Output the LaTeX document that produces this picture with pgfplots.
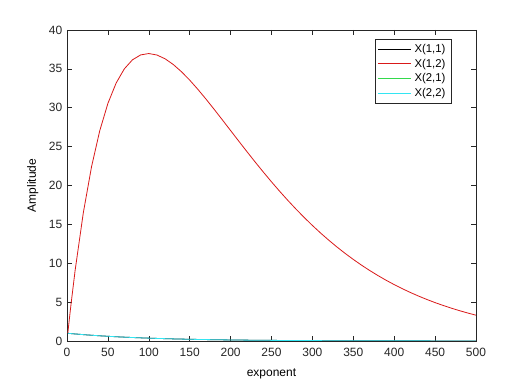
\documentclass[border=0pt]{standalone}
\usepackage{pgfplots}
\pgfplotsset{compat=1.18}
\usepackage{pgfplotstable}
\usepackage{fontspec}
\setmainfont{Liberation Sans}
\pgfplotstableread{
n a b c d
1 0.990000 1.000 0 0.990000
2 0.980100 1.980 0 0.980100
3 0.970299 2.940 0 0.970299
5 0.950990 4.803 0 0.950990
10 0.904382 9.135 0 0.904382
20 0.817907 16.524 0 0.817907
30 0.739700 22.415 0 0.739700
40 0.668971 27.029 0 0.668971
50 0.605006 30.556 0 0.605006
60 0.547157 33.161 0 0.547157
70 0.494839 34.989 0 0.494839
80 0.447523 36.163 0 0.447523
90 0.404732 36.794 0 0.404732
100 0.366032 36.973 0 0.366032
110 0.331033 36.781 0 0.331033
120 0.299380 36.289 0 0.299380
130 0.270754 35.553 0 0.270754
140 0.244865 34.627 0 0.244865
150 0.221452 33.553 0 0.221452
160 0.200277 32.368 0 0.200277
170 0.181127 31.103 0 0.181127
180 0.163808 29.783 0 0.163808
190 0.148145 28.432 0 0.148145
200 0.133980 27.067 0 0.133980
210 0.121169 25.702 0 0.121169
220 0.109583 24.352 0 0.109583
230 0.099105 23.024 0 0.099105
240 0.089629 21.728 0 0.089629
250 0.081059 20.470 0 0.081059
260 0.073308 19.253 0 0.073308
270 0.066299 18.082 0 0.066299
280 0.059960 16.959 0 0.059960
290 0.054226 15.885 0 0.054226
300 0.049041 14.861 0 0.049041
310 0.044352 13.888 0 0.044352
320 0.040111 12.965 0 0.040111
330 0.036276 12.092 0 0.036276
340 0.032807 11.267 0 0.032807
350 0.029670 10.490 0 0.029670
360 0.026833 9.757 0 0.026833
370 0.024268 9.070 0 0.024268
380 0.021947 8.424 0 0.021947
390 0.019849 7.819 0 0.019849
400 0.017951 7.253 0 0.017951
410 0.016234 6.723 0 0.016234
420 0.014682 6.229 0 0.014682
430 0.013278 5.767 0 0.013278
440 0.012009 5.337 0 0.012009
450 0.010860 4.936 0 0.010860
460 0.009822 4.564 0 0.009822
470 0.008883 4.217 0 0.008883
480 0.008034 3.895 0 0.008034
490 0.007265 3.596 0 0.007265
500 0.006570 3.318 0 0.006570
}\datatab
\definecolor{axgray}{gray}{0.15}
\definecolor{mred}{rgb}{0.85,0.1,0.1}
\definecolor{mgreen}{rgb}{0.2,0.85,0.3}
\definecolor{mcyan}{rgb}{0.2,0.9,0.95}
\begin{document}
\begin{tikzpicture}
\path[use as bounding box] (-50.25pt,-32.25pt) rectangle (333.75pt,255.75pt);
\begin{axis}[
  at={(0pt,0pt)}, anchor=south west,
  scale only axis,
  width=306.75pt, height=233.25pt,
  xmin=0, xmax=500, ymin=0, ymax=40,
  xtick={0,50,...,500}, ytick={0,5,...,40},
  tick align=inside,
  major tick length=3.5pt,
  axis line style={axgray, line width=0.4pt},
  every tick/.style={axgray, line width=0.4pt},
  tick label style={font=\fontsize{9}{11}\selectfont, text=axgray},
  xticklabel style={yshift=-1.5pt},
  /pgf/number format/assume math mode=true,
  xlabel={exponent}, ylabel={Amplitude},
  label style={font=\fontsize{9}{11}\selectfont},
  xlabel style={at={(axis description cs:0.5,0)}, anchor=north, yshift=-17pt},
  ylabel style={at={(axis description cs:0,0.5)}, anchor=south, yshift=18pt},
  legend style={at={(0.939,0.971)}, anchor=north east, draw=axgray, line width=0.4pt,
     font=\fontsize{8.5}{10}\selectfont, row sep=-0.5pt, inner xsep=2pt, inner ysep=1.5pt},
  legend cell align=left,
  legend image code/.code={\draw[#1, line width=0.7pt] (0pt,0pt) -- (25pt,0pt);},
]
\addplot[black, line width=0.6pt] table[x=n, y=a] {\datatab};
\addplot[mred, line width=0.6pt] table[x=n, y=b] {\datatab};
\addplot[mgreen, line width=0.6pt] table[x=n, y=c] {\datatab};
\addplot[mcyan, line width=0.6pt] table[x=n, y=d] {\datatab};
\legend{{X(1,1)}, {X(1,2)}, {X(2,1)}, {X(2,2)}}
\end{axis}
\end{tikzpicture}
\end{document}
